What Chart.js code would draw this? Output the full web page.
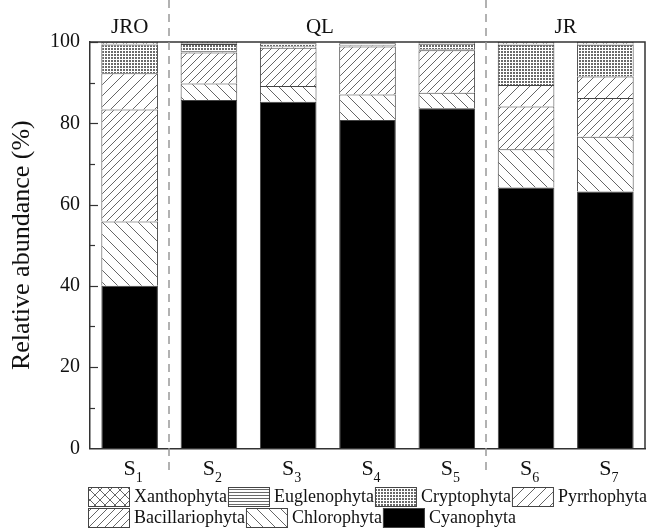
<!DOCTYPE html>
<html>
<head>
<meta charset="utf-8">
<script src="https://cdn.jsdelivr.net/npm/chart.js@4"></script>
<style>
html, body { margin: 0; padding: 0; background: #fff; }
</style>
</head>
<body>
<canvas id="myChart" width="657" height="530"></canvas>
<script>
// sites S1..S7 (subscript numbers)
const sites = ['1', '2', '3', '4', '5', '6', '7'];

// relative abundance (%) per phylum, stacked bottom -> top
const cyanophyta      = [40.0, 85.7, 85.3, 80.8, 83.7, 64.2, 63.2];
const chlorophyta     = [15.8,  4.1,  3.9,  6.3,  3.8,  9.4, 13.5];
const bacillariophyta = [27.6,  7.6,  9.4, 11.8, 10.5, 10.5,  9.5];
const pyrrhophyta     = [ 8.9,  0.3,  0.3,  0.3,  0.2,  5.3,  5.3];
const cryptophyta     = [ 7.1,  1.8,  0.8,  0.5,  1.4,  9.9,  7.8];
const euglenophyta    = [ 0.2,  0.2,  0.2,  0.2,  0.2,  0.3,  0.3];
const xanthophyta     = [ 0.4,  0.3,  0.1,  0.1,  0.2,  0.4,  0.4];

const groupNames = ['JRO', 'QL', 'JR'];
const groupCenters = [0, 2.4, 5.5];
const groupDividers = [0.5, 4.5];

const serif = "'Liberation Serif', 'Times New Roman', serif";
const ink = '#111';

function makePattern(kind, s) {
    const c = document.createElement('canvas');
    c.width = s; c.height = s;
    const x = c.getContext('2d');
    x.fillStyle = '#fff';
    x.fillRect(0, 0, s, s);
    x.strokeStyle = '#666';
    x.fillStyle = '#6a6a6a';
    x.lineWidth = 1;
    const line = (a, b, c2, d) => { x.beginPath(); x.moveTo(a, b); x.lineTo(c2, d); x.stroke(); };
    if (kind === 'slash' || kind === 'cross') {
        line(0, s, s, 0); line(-1, 1, 1, -1); line(s - 1, s + 1, s + 1, s - 1);
    }
    if (kind === 'back' || kind === 'cross') {
        line(0, 0, s, s); line(-1, s - 1, 1, s + 1); line(s - 1, -1, s + 1, 1);
    }
    if (kind === 'hline') {
        x.fillRect(0, 0, s, 1);
    }
    if (kind === 'dots') {
        x.fillRect(0, 0, 2, 2);
    }
    return document.createElement('canvas').getContext('2d').createPattern(c, 'repeat');
}

const datasets = [
    { label: 'Cyanophyta', data: cyanophyta, backgroundColor: '#000' },
    { label: 'Chlorophyta', data: chlorophyta, backgroundColor: makePattern('back', 12) },
    { label: 'Bacillariophyta', data: bacillariophyta, backgroundColor: makePattern('slash', 8) },
    { label: 'Pyrrhophyta', data: pyrrhophyta, backgroundColor: makePattern('slash', 11) },
    { label: 'Cryptophyta', data: cryptophyta, backgroundColor: makePattern('dots', 3) },
    { label: 'Euglenophyta', data: euglenophyta, backgroundColor: makePattern('hline', 3) },
    { label: 'Xanthophyta', data: xanthophyta, backgroundColor: makePattern('cross', 10) }
].map(d => Object.assign(d, {
    borderColor: '#444',
    borderWidth: 1,
    barPercentage: 0.714,
    categoryPercentage: 1.0
}));

const extras = {
    id: 'extras',
    afterDatasetsDraw(chart) {
        const ctx = chart.ctx;
        const a = chart.chartArea;
        const ys = chart.scales.y;
        ctx.save();
        ctx.strokeStyle = '#333';
        ctx.lineWidth = 1.5;
        ctx.beginPath();
        ctx.moveTo(a.left, a.top);
        ctx.lineTo(a.right, a.top);
        ctx.lineTo(a.right, a.bottom);
        ctx.stroke();
        // inward ticks
        ctx.lineWidth = 1.2;
        for (let v = 10; v <= 100; v += 10) {
            const y = Math.round(ys.getPixelForValue(v)) + 0.5;
            const len = v % 20 === 0 ? 8 : 5;
            ctx.beginPath();
            ctx.moveTo(a.left, y);
            ctx.lineTo(a.left + len, y);
            ctx.stroke();
        }
        ctx.restore();
    },
    afterDraw(chart) {
        const ctx = chart.ctx;
        const a = chart.chartArea;
        const xs = chart.scales.x;
        ctx.save();
        // group dividers
        ctx.strokeStyle = '#999';
        ctx.lineWidth = 1.5;
        ctx.setLineDash([8, 6]);
        groupDividers.forEach(g => {
            const x = Math.round(xs.getPixelForValue(g));
            ctx.beginPath();
            ctx.moveTo(x, 0);
            ctx.lineTo(x, 476);
            ctx.stroke();
        });
        ctx.setLineDash([]);
        // group names
        ctx.fillStyle = ink;
        ctx.font = '21px ' + serif;
        ctx.textAlign = 'center';
        ctx.textBaseline = 'alphabetic';
        groupNames.forEach((n, i) => {
            ctx.fillText(n, xs.getPixelForValue(groupCenters[i]), 33);
        });
        // site labels S with subscript
        sites.forEach((s, i) => {
            const x = xs.getPixelForValue(i);
            ctx.font = '22px ' + serif;
            ctx.textAlign = 'center';
            ctx.fillText('S', x, a.bottom + 27);
            const w = ctx.measureText('S').width;
            ctx.font = '14px ' + serif;
            ctx.textAlign = 'left';
            ctx.fillText(s, x + w / 2, a.bottom + 34);
        });
        // legend
        const items = chart.data.datasets.slice().reverse();
        let x = 88, y = 487;
        ctx.font = '18px ' + serif;
        ctx.textBaseline = 'middle';
        ctx.textAlign = 'left';
        items.forEach((d, i) => {
            if (i === 4) { x = 88; y = 508; }
            ctx.fillStyle = d.backgroundColor;
            ctx.fillRect(x, y, 42, 20);
            ctx.strokeStyle = '#444';
            ctx.lineWidth = 1;
            ctx.strokeRect(x + 0.5, y + 0.5, 41, 19);
            ctx.fillStyle = ink;
            ctx.fillText(d.label, x + 46, y + 10.5);
            x += 46 + ctx.measureText(d.label).width + 1;
        });
        ctx.restore();
    }
};

new Chart(document.getElementById('myChart'), {
    type: 'bar',
    data: {
        labels: sites.map(s => 'S' + s),
        datasets: datasets
    },
    options: {
        responsive: false,
        animation: false,
        layout: { padding: { top: 42, right: 12, left: 0, bottom: 0 } },
        plugins: {
            legend: { display: false },
            tooltip: { enabled: false }
        },
        scales: {
            x: {
                stacked: true,
                grid: { display: false },
                border: { display: true, color: '#333', width: 1.5 },
                ticks: { display: false },
                afterFit(scale) { scale.height = 81.7; }
            },
            y: {
                stacked: true,
                min: 0,
                max: 100,
                grid: { display: false, drawTicks: false },
                border: { display: true, color: '#333', width: 1.5 },
                ticks: {
                    stepSize: 20,
                    padding: 10,
                    color: ink,
                    font: { family: serif, size: 20 }
                },
                title: {
                    display: true,
                    text: 'Relative abundance (%)',
                    color: ink,
                    font: { family: serif, size: 26, lineHeight: 1.2 },
                    padding: { top: 7, bottom: 0 }
                },
                afterFit(scale) { scale.width = 90; }
            }
        }
    },
    plugins: [extras]
});
</script>
</body>
</html>
